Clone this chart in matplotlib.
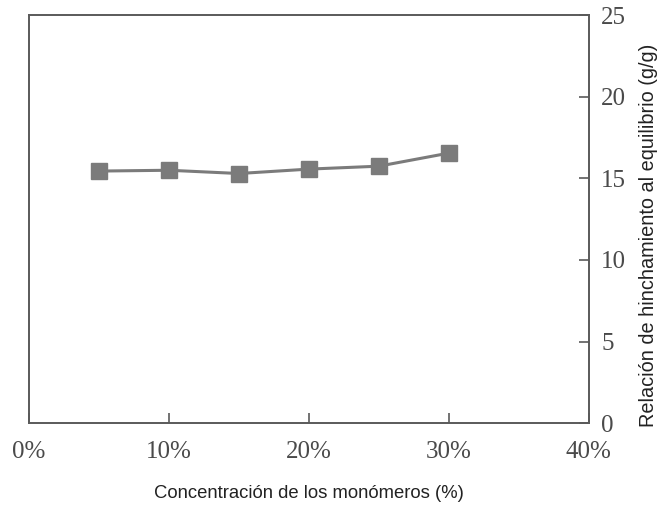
import matplotlib
matplotlib.use("Agg")
import matplotlib.pyplot as plt
from matplotlib.ticker import FuncFormatter

# Swelling ratio versus monomer concentration
concentration = [5, 10, 15, 20, 25, 30]
swelling_ratio = [15.45, 15.5, 15.3, 15.57, 15.75, 16.55]
x_ticks = [0, 10, 20, 30, 40]
y_ticks = [0, 5, 10, 15, 20, 25]

GREY = "#7b7b7b"
SPINE = "#5a5a5a"

fig = plt.figure(figsize=(6.6, 5.08), dpi=100)
ax = fig.add_axes([0.044, 0.167, 0.848, 0.803])

ax.plot(concentration, swelling_ratio, color=GREY, linewidth=2.2,
        marker="s", markersize=12, markerfacecolor=GREY,
        markeredgecolor=GREY)

ax.set_xlim(0, 40)
ax.set_ylim(0, 25)
ax.set_xticks(x_ticks)
ax.set_yticks(y_ticks)
ax.xaxis.set_major_formatter(FuncFormatter(lambda v, _: f"{v:.0f}%"))

ax.yaxis.tick_right()
ax.yaxis.set_label_position("right")
ax.tick_params(direction="in", length=7, width=1.2, color=SPINE,
               labelsize=18, labelcolor="#4a4a4a")
ax.tick_params(axis="x", pad=13)
ax.tick_params(axis="y", pad=9)
for lbl in ax.get_xticklabels() + ax.get_yticklabels():
    lbl.set_family("Liberation Serif")

for sp in ax.spines.values():
    sp.set_color(SPINE)
    sp.set_linewidth(1.4)

ax.set_xlabel("Concentración de los monómeros (%)", fontsize=13.3,
              family="Liberation Sans", color="#222222", labelpad=16)
ax.set_ylabel("Relación de hinchamiento al equilibrio (g/g)", fontsize=14.3,
              family="Liberation Sans", color="#222222")
ax.yaxis.set_label_coords(1.09, 0.46)

fig.savefig("out.png", dpi=100)
